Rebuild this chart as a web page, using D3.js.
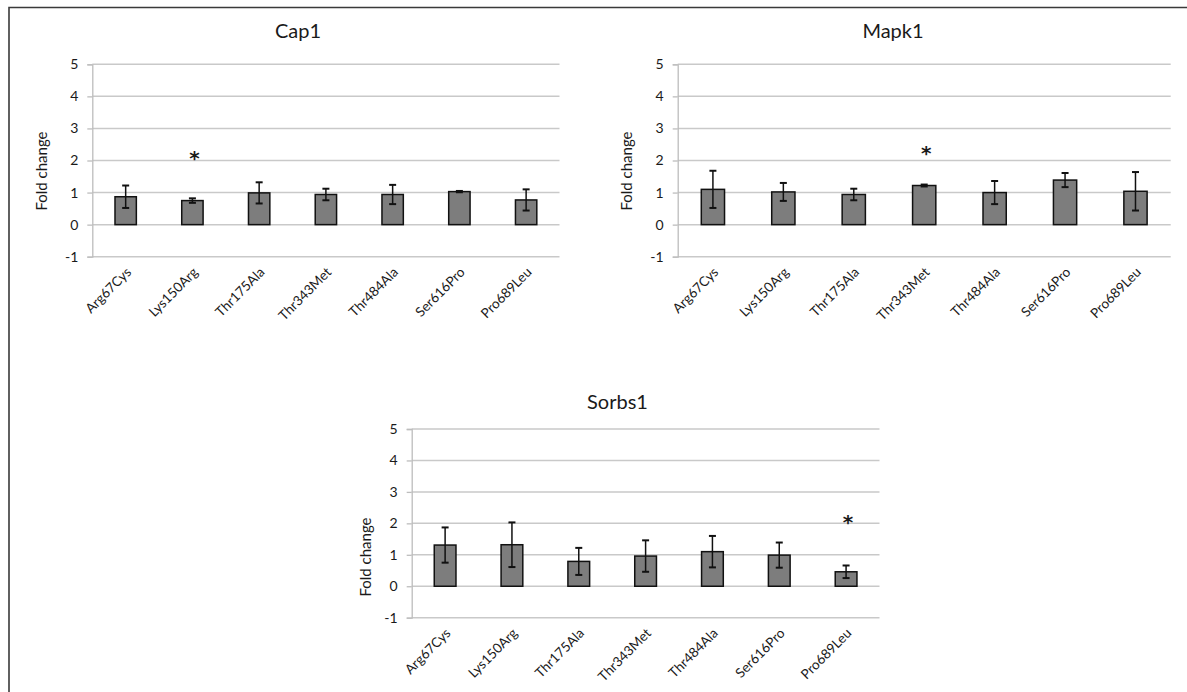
<!DOCTYPE html>
<html>
<head>
<meta charset="utf-8">
<script src="https://cdn.jsdelivr.net/npm/d3@7"></script>
<style>
  html, body { margin: 0; padding: 0; background: #fff; }
  svg { display: block; }
  text { font-family: Lato, "Open Sans", sans-serif; fill: #1a1a1a; }
</style>
</head>
<body>
<svg id="fig" width="1187" height="692"></svg>
<script>
// Variants tested (x axis categories)
const categories = ["Arg67Cys", "Lys150Arg", "Thr175Ala", "Thr343Met", "Thr484Ala", "Ser616Pro", "Pro689Leu"];

// Fold change (mean) and error (±) per gene
const cap1Mean   = [0.87, 0.75, 0.99, 0.94, 0.94, 1.03, 0.77];
const cap1Err    = [0.35, 0.07, 0.33, 0.18, 0.30, 0.02, 0.33];
const mapk1Mean  = [1.10, 1.02, 0.94, 1.22, 1.00, 1.39, 1.04];
const mapk1Err   = [0.58, 0.28, 0.18, 0.03, 0.36, 0.22, 0.60];
const sorbs1Mean = [1.31, 1.32, 0.79, 0.96, 1.10, 0.99, 0.46];
const sorbs1Err  = [0.56, 0.71, 0.43, 0.50, 0.50, 0.40, 0.20];

// Significant variant per gene and the height its asterisk sits at
const cap1Sig   = { index: 1, at: 2.30 };
const mapk1Sig  = { index: 3, at: 2.45 };
const sorbs1Sig = { index: 6, at: 2.28 };

// Y axis
const yDomain = [-1, 5];
const yTicks = [-1, 0, 1, 2, 3, 4, 5];

const svg = d3.select("#fig");

// frame around the figure
svg.append("path")
  .attr("d", "M9,692 L9,7.5 L1187,7.5")
  .attr("fill", "none")
  .attr("stroke", "#3a3a3a")
  .attr("stroke-width", 1.6);

const panels = [
  { title: "Cap1",   mean: cap1Mean,   err: cap1Err,   sig: cap1Sig,
    left: 92.3, right: 559.5, top: 64.3, bottom: 256.7, pad: 0.68,
    titleX: 298, titleY: 38, labelX: 42, labelY: 171 },
  { title: "Mapk1",  mean: mapk1Mean,  err: mapk1Err,  sig: mapk1Sig,
    left: 677.7, right: 1170.7, top: 64.3, bottom: 256.7, pad: 0.67,
    titleX: 893, titleY: 38, labelX: 627, labelY: 171 },
  { title: "Sorbs1", mean: sorbs1Mean, err: sorbs1Err, sig: sorbs1Sig,
    left: 411.7, right: 879.5, top: 429, bottom: 617.7, pad: 0.675,
    titleX: 617.5, titleY: 409, labelX: 366, labelY: 557 }
];

panels.forEach(p => {
  const g = svg.append("g");

  const x = d3.scaleBand()
    .domain(categories)
    .range([p.left, p.right])
    .paddingInner(p.pad)
    .paddingOuter(p.pad / 2);

  const y = d3.scaleLinear().domain(yDomain).range([p.bottom, p.top]);

  // horizontal gridlines
  g.append("g")
    .selectAll("line")
    .data(yTicks)
    .join("line")
    .attr("x1", p.left).attr("x2", p.right)
    .attr("y1", d => y(d)).attr("y2", d => y(d))
    .attr("stroke", "#c9c9c9")
    .attr("stroke-width", 1.5);

  // y axis
  const yAxis = g.append("g")
    .attr("transform", `translate(${p.left},0)`)
    .call(d3.axisLeft(y).tickValues(yTicks).tickSize(5).tickPadding(9).tickFormat(d => String(d)));
  yAxis.select(".domain").attr("stroke", "#bdbdbd").attr("stroke-width", 1.3);
  yAxis.selectAll(".tick line").attr("stroke", "#bdbdbd").attr("stroke-width", 1.3);
  yAxis.selectAll(".tick text")
    .style("font-family", "Lato, 'Open Sans', sans-serif")
    .style("font-size", "14px")
    .attr("fill", "#1a1a1a");

  // category labels
  const xAxis = g.append("g")
    .attr("transform", `translate(0,${p.bottom})`)
    .call(d3.axisBottom(x).tickSize(0));
  xAxis.select(".domain").remove();
  xAxis.selectAll(".tick text")
    .attr("x", 0).attr("y", 0).attr("dy", "0.35em")
    .attr("transform", "translate(3,13) rotate(-45)")
    .style("text-anchor", "end")
    .style("font-family", "Lato, 'Open Sans', sans-serif")
    .style("font-size", "13.5px")
    .attr("fill", "#1a1a1a");

  // bars
  g.append("g")
    .selectAll("rect")
    .data(categories)
    .join("rect")
    .attr("x", d => x(d))
    .attr("width", x.bandwidth())
    .attr("y", (d, i) => y(p.mean[i]))
    .attr("height", (d, i) => y(0) - y(p.mean[i]))
    .attr("fill", "#7d7d7d")
    .attr("stroke", "#111")
    .attr("stroke-width", 1.5);

  // error bars
  const eb = g.append("g")
    .selectAll("g")
    .data(categories)
    .join("g")
    .attr("transform", d => `translate(${x(d) + x.bandwidth() / 2},0)`);
  eb.append("line")
    .attr("y1", (d, i) => y(p.mean[i] + p.err[i]))
    .attr("y2", (d, i) => y(p.mean[i] - p.err[i]))
    .attr("stroke", "#111").attr("stroke-width", 1.5);
  [1, -1].forEach(s => {
    eb.append("line")
      .attr("x1", -3.5).attr("x2", 3.5)
      .attr("y1", (d, i) => y(p.mean[i] + s * p.err[i]))
      .attr("y2", (d, i) => y(p.mean[i] + s * p.err[i]))
      .attr("stroke", "#111").attr("stroke-width", 2);
  });

  // significance asterisk
  g.append("text")
    .attr("x", x(categories[p.sig.index]) + x.bandwidth() / 2 + 2)
    .attr("y", y(p.sig.at))
    .attr("dy", "0.72em")
    .attr("text-anchor", "middle")
    .style("font-family", "'DejaVu Sans', sans-serif")
    .style("font-size", "20px")
    .style("font-weight", "bold")
    .attr("fill", "#111")
    .text("*");

  // title
  g.append("text")
    .attr("x", p.titleX).attr("y", p.titleY)
    .attr("text-anchor", "middle")
    .style("font-size", "20px")
    .text(p.title);

  // y axis title
  g.append("text")
    .attr("transform", `translate(${p.labelX},${p.labelY}) rotate(-90)`)
    .attr("text-anchor", "middle")
    .attr("dy", "0.35em")
    .style("font-size", "15px")
    .text("Fold change");
});
</script>
</body>
</html>
